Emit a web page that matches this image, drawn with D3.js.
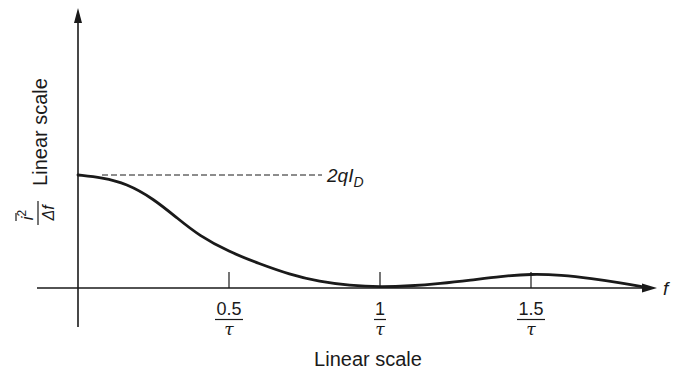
<!DOCTYPE html>
<html>
<head>
<meta charset="utf-8">
<script src="https://cdn.jsdelivr.net/npm/d3@7"></script>
<style>
  body { margin: 0; background: #fff; }
  svg text { font-family: "Liberation Sans", Arial, Helvetica, sans-serif; fill: #1a1a1a; }
</style>
</head>
<body>
<div class="vis"></div>
<script>
// frequency in units of 1/tau, noise density relative to 2qI_D
const freq = [0, 0.08, 0.16, 0.25, 0.33, 0.40, 0.50, 0.60, 0.70, 0.80, 0.90, 1.0,
    1.1, 1.2, 1.3, 1.4, 1.5, 1.6, 1.7, 1.8, 1.87];
const noise = [1.0, 0.977, 0.925, 0.79, 0.615, 0.465, 0.32, 0.215, 0.12, 0.055, 0.022, 0.008,
    0.018, 0.04, 0.07, 0.103, 0.125, 0.115, 0.085, 0.045, 0.01];
const tickValues = [0.5, 1, 1.5];
const tickNumerators = ['0.5', '1', '1.5'];
const levelLabel = '2qI';

const draw = (outerWidth, outerHeight) => {
    const svg = d3.select('.vis').append('svg')
        .attr('width', outerWidth)
        .attr('height', outerHeight);

    const x = d3.scaleLinear().domain([0, 1]).range([78, 380]);
    const y = d3.scaleLinear().domain([0, 1]).range([288, 175]);

    const ink = '#1a1a1a';

    // x axis with arrow
    svg.append('line')
        .attr('x1', 37).attr('x2', 646)
        .attr('y1', y(0)).attr('y2', y(0))
        .attr('stroke', ink).attr('stroke-width', 1.6);
    svg.append('path')
        .attr('d', `M657,${y(0)} L642,${y(0) - 4.5} L642,${y(0) + 4.5} Z`)
        .attr('fill', ink);
    svg.append('text')
        .attr('x', 663).attr('y', y(0) + 7)
        .attr('font-size', 19).attr('font-style', 'italic')
        .text('f');

    // y axis with arrow
    svg.append('line')
        .attr('x1', x(0)).attr('x2', x(0))
        .attr('y1', 327).attr('y2', 20)
        .attr('stroke', ink).attr('stroke-width', 1.6);
    svg.append('path')
        .attr('d', `M${x(0)},8 L${x(0) - 4},23 L${x(0) + 4},23 Z`)
        .attr('fill', ink);

    // ticks and fraction labels
    const ticks = svg.selectAll('.tick')
        .data(tickValues)
        .enter().append('g')
        .attr('class', 'tick')
        .attr('transform', d => `translate(${x(d)},0)`);
    ticks.append('line')
        .attr('y1', y(0) - 16).attr('y2', y(0))
        .attr('stroke', ink).attr('stroke-width', 1.2);
    ticks.append('text')
        .attr('y', 315)
        .attr('text-anchor', 'middle')
        .attr('font-size', 18)
        .text((d, i) => tickNumerators[i]);
    ticks.append('line')
        .attr('x1', (d, i) => tickNumerators[i].length > 1 ? -14 : -6)
        .attr('x2', (d, i) => tickNumerators[i].length > 1 ? 14 : 6)
        .attr('y1', 319.5).attr('y2', 319.5)
        .attr('stroke', ink).attr('stroke-width', 1.2);
    ticks.append('text')
        .attr('y', 335)
        .attr('text-anchor', 'middle')
        .attr('font-size', 17)
        .attr('font-style', 'italic')
        .style('font-family', '"DejaVu Serif", serif')
        .text('τ');

    // x axis title
    svg.append('text')
        .attr('x', 368).attr('y', 366)
        .attr('text-anchor', 'middle')
        .attr('font-size', 20)
        .text('Linear scale');

    // y axis title (rotated)
    svg.append('text')
        .attr('transform', 'translate(47,132) rotate(-90)')
        .attr('text-anchor', 'middle')
        .attr('font-size', 20)
        .text('Linear scale');

    // rotated fraction i^2 / Δf
    const frac = svg.append('g')
        .attr('transform', 'translate(38,213) rotate(-90)');
    frac.append('line')
        .attr('x1', -12).attr('x2', 12)
        .attr('y1', 0).attr('y2', 0)
        .attr('stroke', ink).attr('stroke-width', 1.2);
    const num = frac.append('text')
        .attr('x', -2).attr('y', -5)
        .attr('text-anchor', 'middle')
        .attr('font-size', 17)
        .attr('font-style', 'italic');
    num.append('tspan').text('i');
    num.append('tspan').attr('dy', -7).attr('font-size', 12).attr('font-style', 'normal').text('2');
    frac.append('line')
        .attr('x1', -8).attr('x2', 0)
        .attr('y1', -22).attr('y2', -22)
        .attr('stroke', ink).attr('stroke-width', 1.2);
    frac.append('text')
        .attr('x', 0).attr('y', 16)
        .attr('text-anchor', 'middle')
        .attr('font-size', 16)
        .attr('font-style', 'italic')
        .text('Δf');

    // dashed reference level
    svg.append('line')
        .attr('x1', 102).attr('x2', 322)
        .attr('y1', y(1)).attr('y2', y(1))
        .attr('stroke', ink).attr('stroke-width', 1)
        .attr('stroke-dasharray', '6,3');
    const lvl = svg.append('text')
        .attr('x', 327).attr('y', y(1) + 7)
        .attr('font-size', 19)
        .attr('font-style', 'italic');
    lvl.append('tspan').text(levelLabel);
    lvl.append('tspan').attr('dy', 5).attr('font-size', 14).text('D');

    // spectrum curve
    const line = d3.line()
        .x((d, i) => x(freq[i]))
        .y(d => y(d))
        .curve(d3.curveBasis);
    svg.append('path')
        .datum(noise)
        .attr('d', line)
        .attr('fill', 'none')
        .attr('stroke', ink)
        .attr('stroke-width', 2.8)
        .attr('stroke-linecap', 'round');
};

draw(673, 373);
</script>
</body>
</html>
